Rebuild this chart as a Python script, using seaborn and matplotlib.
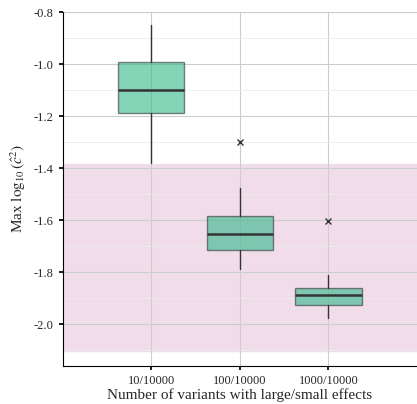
import matplotlib
matplotlib.use("Agg")
import matplotlib.pyplot as plt
import seaborn as sns

sns.set_theme(style="white")
plt.rcParams['font.family'] = ['Liberation Serif', 'DejaVu Serif']
plt.rcParams['mathtext.fontset'] = 'stix'

groups = ["10/10000", "100/10000", "1000/10000"]
whislo = [-1.38, -1.79, -1.975]
q1 = [-1.19, -1.715, -1.925]
med = [-1.10, -1.655, -1.89]
q3 = [-0.99, -1.585, -1.86]
whishi = [-0.85, -1.475, -1.81]
fliers = [[], [-1.30], [-1.605]]
band = (-2.105, -1.385)

fig, ax = plt.subplots(figsize=(4.17, 4.04), dpi=100)
fig.subplots_adjust(left=0.15, right=1.0, top=0.97, bottom=0.095)

ax.axhspan(band[0], band[1], color="#f1dde9", zorder=0)
stats = [dict(label=g, whislo=a, q1=b, med=c, q3=d, whishi=e, fliers=f)
         for g, a, b, c, d, e, f in zip(groups, whislo, q1, med, q3, whishi, fliers)]
ax.bxp(stats, positions=range(3), widths=0.75, patch_artist=True,
       showcaps=False,
       boxprops=dict(facecolor="#33b88a", edgecolor="#333333", alpha=0.6, linewidth=1),
       medianprops=dict(color="#333333", linewidth=1.8),
       whiskerprops=dict(color="#333333"),
       flierprops=dict(marker="x", markeredgecolor="#333333", markersize=5))

ax.set_xlim(-1, 3)
ax.set_ylim(-2.16, -0.8)
ax.set_yticks([-2.0, -1.8, -1.6, -1.4, -1.2, -1.0, -0.8])
ax.set_yticks([-2.1, -1.9, -1.7, -1.5, -1.3, -1.1, -0.9], minor=True)
ax.set_yticklabels(["-2.0", "-1.8", "-1.6", "-1.4", "-1.2", "-1.0", "-0.8"])
ax.set_xticks(range(3))
ax.set_xticklabels(groups)
ax.grid(True, which="major", color="#cccccc", linewidth=0.8)
ax.grid(True, which="minor", axis="y", color="#ececec", linewidth=0.6)
for gl in ax.get_xgridlines() + ax.get_ygridlines():
    gl.set_zorder(0.5)
for s in ["top", "right"]:
    ax.spines[s].set_visible(False)
for s in ["left", "bottom"]:
    ax.spines[s].set_color("black")
    ax.spines[s].set_linewidth(0.8)
ax.tick_params(axis="both", labelsize=9, length=3, left=True, bottom=True, color="black")
ax.set_xlabel("Number of variants with large/small effects", fontsize=11, labelpad=1)
ax.set_ylabel(r"Max $\log_{10}(\hat{c}^2)$", fontsize=11)
fig.savefig("out.png")
